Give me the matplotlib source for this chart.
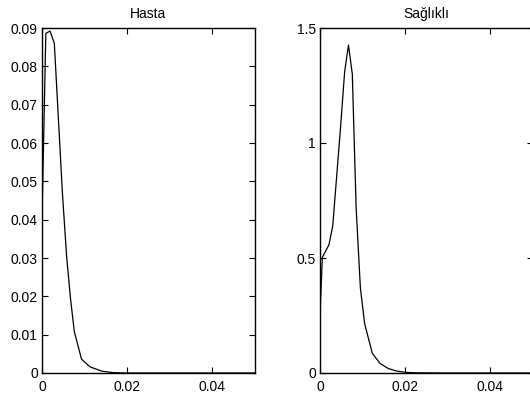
import matplotlib
matplotlib.use("Agg")
import matplotlib.pyplot as plt
from matplotlib.ticker import FuncFormatter

plt.rcParams['font.family'] = ['Liberation Sans', 'DejaVu Sans']
plt.rcParams['font.size'] = 10

# Hasta (patient) curve
hasta_x = [0.0, 0.0009, 0.0019, 0.0029, 0.0048, 0.0058, 0.0067, 0.0076,
           0.0093, 0.0113, 0.014, 0.0167, 0.02, 0.03, 0.04, 0.05]
hasta_y = [0.040, 0.0886, 0.0892, 0.0860, 0.047, 0.0303, 0.0195, 0.0108,
           0.0036, 0.0016, 0.0005, 0.0001, 0.0, 0.0, 0.0, 0.0]

# Sağlıklı (healthy) curve
saglikli_x = [0.0, 0.00055, 0.0021, 0.003, 0.0039, 0.0048, 0.0058, 0.0067,
              0.0076, 0.0085, 0.0095, 0.0105, 0.0123, 0.0141, 0.016, 0.0179,
              0.02, 0.022, 0.03, 0.04, 0.05]
saglikli_y = [0.25, 0.503, 0.557, 0.64, 0.85, 1.06, 1.31, 1.426,
              1.30, 0.72, 0.37, 0.215, 0.086, 0.042, 0.02, 0.009,
              0.003, 0.001, 0.0, 0.0, 0.0]

hasta_yticks = [0, 0.01, 0.02, 0.03, 0.04, 0.05, 0.06, 0.07, 0.08, 0.09]
saglikli_yticks = [0, 0.5, 1, 1.5]
xticks = [0, 0.02, 0.04]

fig = plt.figure(figsize=(5.30, 3.97), dpi=100)
ax1 = fig.add_axes([42/530, 24/397, 212.5/530, 345/397])
ax2 = fig.add_axes([320/530, 24/397, 212.5/530, 345/397])

fmt = FuncFormatter(lambda v, p: ('%g' % v))

for ax, x, y, yt, ylim, title in [
        (ax1, hasta_x, hasta_y, hasta_yticks, (0, 0.09), 'Hasta'),
        (ax2, saglikli_x, saglikli_y, saglikli_yticks, (0, 1.5), 'Sağlıklı')]:
    ax.plot(x, y, color='black', lw=0.9)
    ax.set_xlim(0, 0.05)
    ax.set_ylim(*ylim)
    ax.set_xticks(xticks)
    ax.set_yticks(yt)
    ax.xaxis.set_major_formatter(fmt)
    ax.yaxis.set_major_formatter(fmt)
    ax.tick_params(direction='in', top=True, right=True, length=4, width=0.8,
                   labelsize=10, colors='black')
    ax.tick_params(axis='y', pad=3)
    ax.tick_params(axis='x', pad=5)
    for s in ax.spines.values():
        s.set_linewidth(1.0)
        s.set_color('black')
    ax.set_title(title, fontsize=10, pad=7)

fig.savefig('out.png', dpi=100)
